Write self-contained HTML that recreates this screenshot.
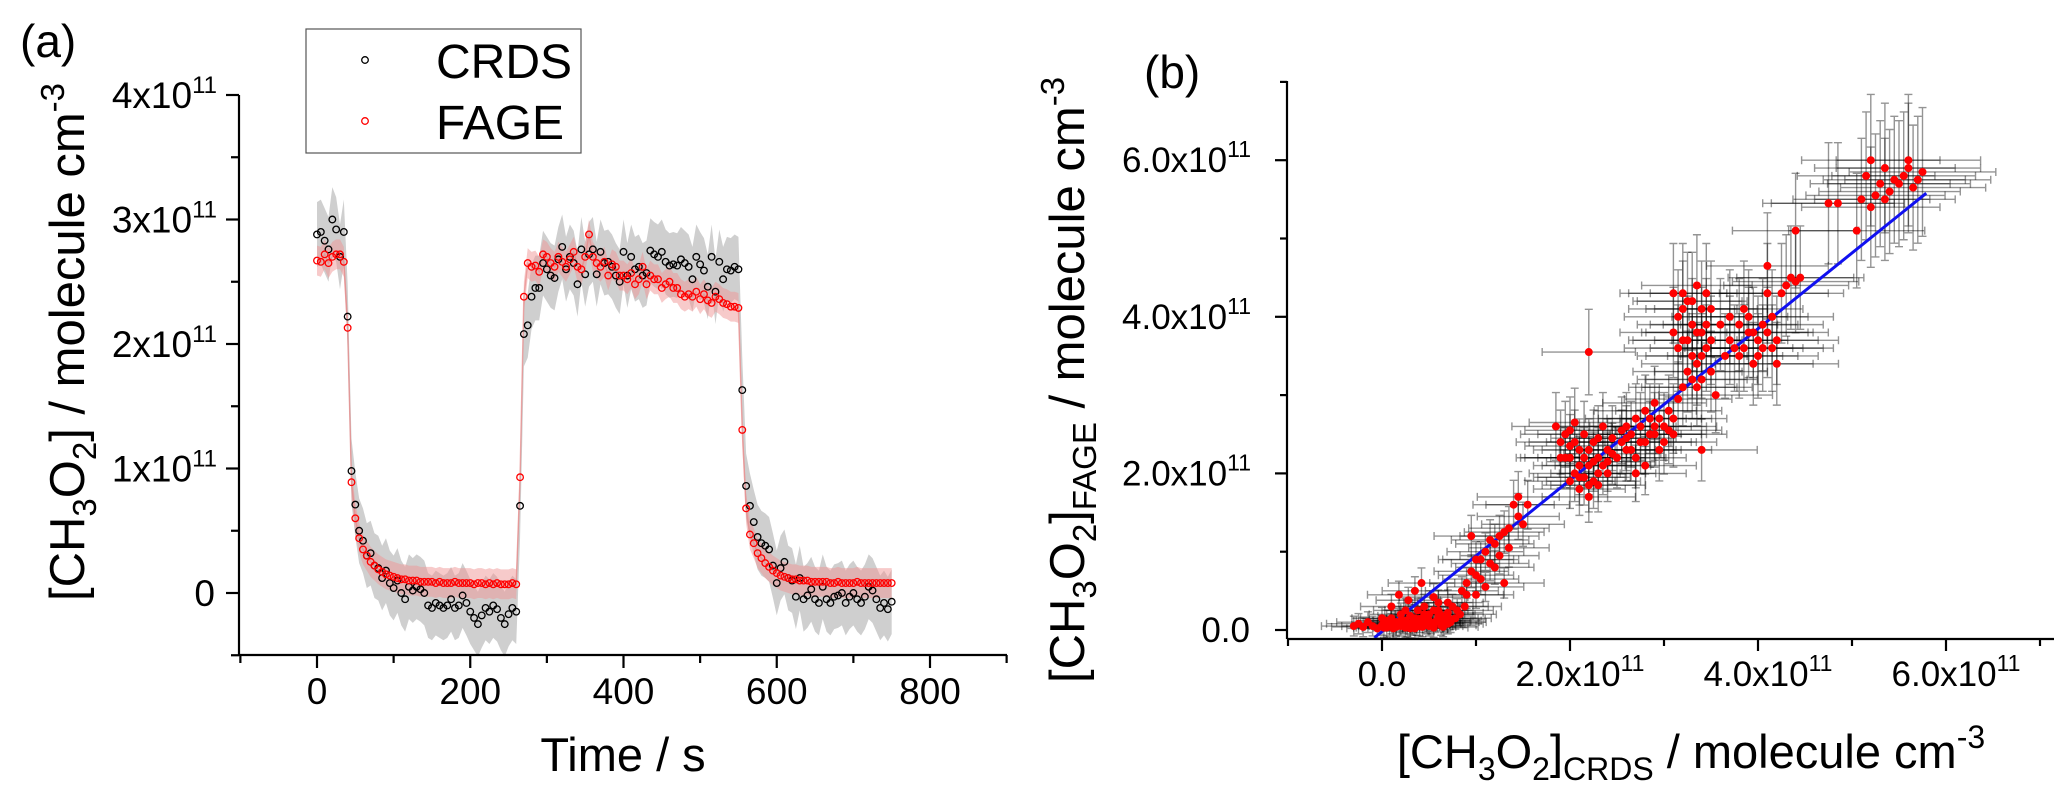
<!DOCTYPE html>
<html><head><meta charset="utf-8"><style>
html,body{margin:0;padding:0;background:#fff;}
svg{display:block;font-family:"Liberation Sans",Arial,sans-serif;}
</style></head><body>
<svg id="fig" width="2068" height="803" viewBox="0 0 2068 803" xmlns="http://www.w3.org/2000/svg">
<g id="pa"></g>
<g id="pb"></g>
</svg>
<script>
// ---------- Panel (a) data (units of 1e11 molecule cm^-3), sampled every dt seconds ----------
const dt = 5;
const crds = [
2.88,2.90,2.83,2.76,3.00,2.92,2.70,2.90,2.22,0.98,
0.71,0.50,0.42,0.30,0.32,0.22,0.20,0.12,0.18,0.08,
0.04,0.10,0.00,-0.05,0.05,0.02,0.05,0.03,0.00,-0.10,
-0.12,-0.08,-0.10,-0.12,-0.10,-0.05,-0.12,-0.10,-0.02,-0.08,
-0.15,-0.20,-0.25,-0.18,-0.12,-0.15,-0.10,-0.13,-0.20,-0.25,
-0.17,-0.12,-0.15,0.70,2.08,2.15,2.38,2.45,2.45,2.65,
2.60,2.55,2.53,2.68,2.78,2.60,2.70,2.65,2.48,2.76,
2.56,2.72,2.76,2.56,2.74,2.65,2.66,2.62,2.55,2.50,
2.74,2.55,2.70,2.60,2.62,2.55,2.57,2.75,2.72,2.70,
2.74,2.66,2.63,2.64,2.63,2.68,2.65,2.62,2.52,2.70,
2.64,2.59,2.46,2.70,2.42,2.66,2.52,2.60,2.59,2.62,
2.60,1.63,0.86,0.70,0.57,0.45,0.40,0.38,0.35,0.22,
0.08,0.20,0.25,0.12,0.10,-0.03,0.12,-0.05,-0.02,0.03,
-0.05,-0.08,0.05,-0.05,-0.08,-0.03,-0.02,0.00,-0.08,-0.03,
0.00,-0.05,-0.08,-0.03,0.05,0.02,-0.05,-0.12,-0.08,-0.13,
-0.07];
const fage = [
2.67,2.66,2.72,2.65,2.70,2.72,2.72,2.66,2.13,0.89,
0.60,0.44,0.35,0.30,0.25,0.22,0.19,0.17,0.15,0.14,
0.13,0.12,0.11,0.11,0.10,0.10,0.10,0.09,0.09,0.09,
0.09,0.08,0.09,0.08,0.08,0.08,0.09,0.08,0.08,0.08,
0.08,0.07,0.08,0.08,0.07,0.08,0.07,0.08,0.07,0.07,
0.07,0.08,0.07,0.93,2.38,2.65,2.62,2.63,2.58,2.72,
2.70,2.65,2.62,2.70,2.66,2.62,2.68,2.74,2.62,2.60,
2.70,2.88,2.70,2.65,2.62,2.66,2.55,2.64,2.62,2.55,
2.55,2.52,2.57,2.48,2.52,2.62,2.48,2.55,2.52,2.52,
2.45,2.48,2.50,2.45,2.45,2.40,2.38,2.40,2.38,2.42,
2.36,2.40,2.35,2.33,2.38,2.36,2.33,2.32,2.30,2.30,
2.29,1.31,0.68,0.47,0.40,0.32,0.28,0.24,0.21,0.18,
0.16,0.14,0.13,0.12,0.11,0.11,0.10,0.10,0.10,0.09,
0.09,0.09,0.09,0.09,0.08,0.08,0.09,0.08,0.08,0.08,
0.08,0.09,0.08,0.08,0.08,0.08,0.08,0.08,0.08,0.08,
0.08];
const crdsErr = 0.26;
const fageErr = 0.12;
const aXTicks = [0,200,400,600,800];
const aXLabels = ["0","200","400","600","800"];
const aYTicks = [0,1,2,3,4];
const aYLabels = ["0","1x10","2x10","3x10","4x10"];

// ---------- Panel (b) data (units of 1e11) ----------
const bX = [-0.25,-0.15,-0.1,0,0.05,0.1,0.15,0.2,0.25,0.3,0.35,0.4,0.45,0.5,0.55,0.6,0.65,0.7,0.75,0.8,0.1,0.18,0.28,0.35,0.42,0.2,0.0,0.3,0.5,0.6,0.7,0.12,0.38,0.55,
-0.2,0.02,0.08,0.22,0.32,0.44,0.48,0.58,0.66,0.72,0.15,0.25,0.4,0.62,
-0.3,-0.05,0.05,0.1,0.15,0.22,0.27,0.33,0.37,0.43,0.47,0.52,0.57,0.63,0.68,0.73,0.78,0.83,0.88,0.2,0.3,0.4,0.5,0.6,0.7,0.45,0.25,0.35,0.55,0.65,
0.85,0.9,0.95,1.0,1.05,1.1,1.15,1.2,1.25,1.3,1.35,1.4,1.5,1.55,0.95,1.3,1.45,1.0,1.1,
0.9,1.0,1.05,1.15,1.2,1.25,1.35,1.45,
1.85,1.9,1.95,2.0,2.0,2.05,2.1,2.1,2.15,2.2,2.2,2.25,2.3,2.3,2.35,2.4,2.4,2.05,2.15,2.25,2.45,1.95,2.2,
1.9,2.0,2.05,2.1,2.15,2.2,2.25,2.3,2.35,2.2,2.1,2.3,2.4,2.45,2.0,
2.5,2.55,2.6,2.65,2.7,2.75,2.8,2.85,2.9,2.9,2.95,3.0,3.05,3.1,2.7,2.8,3.15,2.6,3.4,
2.55,2.65,2.75,2.8,2.85,2.95,3.0,3.05,2.6,2.7,2.9,3.1,
3.1,3.15,3.2,3.25,3.3,3.3,3.35,3.4,3.4,3.45,3.5,3.5,3.55,3.2,3.35,3.1,3.45,3.25,
3.15,3.2,3.25,3.3,3.35,3.4,3.4,3.45,3.3,3.5,3.2,3.35,
3.6,3.7,3.75,3.8,3.85,3.9,3.95,4.0,4.05,4.1,4.15,4.2,4.25,4.3,4.35,4.4,4.45,4.1,3.65,4.4,
3.7,3.8,3.9,4.0,4.05,4.1,4.15,4.2,3.85,3.95,
4.75,4.85,5.05,5.1,5.15,5.2,5.25,5.3,5.35,5.4,5.45,5.5,5.55,5.6,5.65,5.7,5.75,5.2,5.35,5.6];
const bY = [0.08,0.1,0.05,0.06,0.12,0.08,0.1,0.05,0.12,0.08,0.15,0.1,0.2,0.12,0.25,0.18,0.15,0.22,0.3,0.25,0.3,0.45,0.38,0.5,0.6,0.2,0.15,0.02,0.05,0.35,0.08,0.02,0.25,0.42,
0.04,0.03,0.05,0.1,0.06,0.15,0.08,0.12,0.1,0.14,0.06,0.03,0.05,0.2,
0.05,0.02,0.03,0.15,0.04,0.08,0.04,0.1,0.06,0.04,0.1,0.08,0.1,0.06,0.12,0.1,0.15,0.2,0.3,0.12,0.18,0.14,0.2,0.25,0.35,0.3,0.25,0.02,0.03,0.04,
0.5,0.6,0.75,0.7,0.9,1.0,0.85,1.1,1.2,1.25,1.05,1.6,1.35,1.6,1.2,0.6,1.7,0.45,0.55,
0.45,0.9,0.65,1.15,0.8,0.95,1.3,1.45,
2.6,2.4,2.2,1.9,2.55,2.0,1.8,2.3,2.5,1.7,2.1,2.4,1.85,2.2,2.6,2.0,2.3,2.65,1.95,1.9,2.45,2.5,3.55,
2.2,2.2,2.4,2.1,2.2,2.3,2.15,2.45,2.1,1.85,1.95,2.0,2.15,2.25,2.35,
2.2,2.4,2.3,2.5,2.2,2.6,2.4,2.7,2.5,2.9,2.3,2.6,2.8,2.5,2.0,2.1,2.95,2.6,2.3,
2.55,2.3,2.4,2.8,2.5,2.7,2.4,2.55,2.45,2.7,2.6,2.7,
4.3,4.0,3.7,4.2,3.5,3.9,4.4,3.2,3.8,3.6,3.3,4.1,3.0,3.1,3.4,3.8,4.3,3.3,
3.6,4.1,3.7,4.2,3.8,3.5,4.1,3.9,3.2,3.7,4.3,3.1,
3.9,4.0,3.6,3.5,4.1,3.8,3.4,3.7,3.9,4.3,3.6,3.4,4.3,4.4,4.5,4.45,4.5,4.65,3.5,5.1,
3.7,3.9,4.0,3.5,3.6,3.8,4.0,3.7,3.6,3.8,
5.45,5.45,5.1,5.5,5.8,5.4,5.55,5.7,5.9,5.6,5.75,5.7,5.8,5.9,5.65,5.75,5.85,6.0,5.5,6.0];
const fitSlope = 0.967;
const fitIntercept = -0.02;
const fitRange = [-0.08, 5.79];
const bXTicks = [0,2,4,6];
const bXLabels = ["0.0","2.0x10","4.0x10","6.0x10"];
const bYTicks = [0,2,4,6];
const bYLabels = ["0.0","2.0x10","4.0x10","6.0x10"];

// ---------- helpers ----------
const NS = "http://www.w3.org/2000/svg";
function mk(tag, attrs, parent){
  const e = document.createElementNS(NS, tag);
  for (const k in attrs) e.setAttribute(k, attrs[k]);
  parent.appendChild(e);
  return e;
}
const pa = document.getElementById('pa');
const pb = document.getElementById('pb');

// ---------- Panel (a) ----------
const aL=239, aR=1007, aB=655, aT=95;
const ax = v => 317 + (v-0)*(930-317)/800;
const ay = v => 593 - v*124.5;

function band(vals, err, fill, parent, name){
  let up = [], dn = [];
  vals.forEach((v,i)=>{ up.push(ax(i*dt)+','+ay(v+err)); dn.unshift(ax(i*dt)+','+ay(v-err)); });
  const p = mk('polygon',{points: up.concat(dn).join(' '), fill: fill}, parent);
  
  
}
band(crds, crdsErr, '#cfcfcf', pa, 'crds-uncertainty-band');
band(fage, fageErr, 'rgba(240,150,150,0.5)', pa, 'fage-uncertainty-band');
{
  const pts = fage.map((v,i)=>ax(i*dt)+','+ay(v)).join(' ');
  const l = mk('polyline',{points:pts, fill:'none', stroke:'rgba(230,130,130,0.6)', 'stroke-width':1.5}, pa);
  
  
}
const gC = mk('g',{}, pa);


crds.forEach((v,i)=>{
  const c = mk('circle',{cx:ax(i*dt), cy:ay(v), r:3.3, fill:'none', stroke:'#000', 'stroke-width':1.3}, gC);
  
  
});
const gF = mk('g',{}, pa);


fage.forEach((v,i)=>{
  const c = mk('circle',{cx:ax(i*dt), cy:ay(v), r:3.3, fill:'none', stroke:'#f00', 'stroke-width':1.3}, gF);
  
  
});

{
  const g = mk('g',{stroke:'#000','stroke-width':2.2}, pa);
  
  
  mk('line',{x1:aL,y1:aB,x2:aR,y2:aB},g);
  mk('line',{x1:aL,y1:aB,x2:aL,y2:aT},g);
  for (let v=-100; v<=900; v+=100){
    const maj = v%200===0;
    mk('line',{x1:ax(v),y1:aB,x2:ax(v),y2:aB+(maj?13:8)},g);
  }
  for (let v=-0.5; v<=4.01; v+=0.5){
    const maj = Math.abs(v-Math.round(v))<0.01;
    mk('line',{x1:aL,y1:ay(v),x2:aL-(maj?13:8),y2:ay(v)},g);
  }
}
aXTicks.forEach((v,i)=>{
  const t = mk('text',{x:ax(v), y:704, 'font-size':37, 'text-anchor':'middle'}, pa);
  t.textContent = aXLabels[i];
  
  
});
aYTicks.forEach((v,i)=>{
  const t = mk('text',{x:217, y:ay(v)+13, 'font-size':37, 'text-anchor':'end'}, pa);
  
  
  if (v===0){ t.setAttribute('x', 215); t.textContent = aYLabels[i]; }
  else {
    const a = mk('tspan',{},t); a.textContent = aYLabels[i];
    const s = mk('tspan',{'font-size':24, dy:-15},t); s.textContent = '11';
  }
});
{
  const t = mk('text',{x:623, y:771, 'font-size':47, 'text-anchor':'middle'}, pa);
  t.textContent = 'Time / s';
  
  
  const y = mk('text',{transform:'translate(84,342) rotate(-90)', 'font-size':49, 'text-anchor':'middle'}, pa);
  
  
  y.innerHTML = '[CH<tspan font-size="33" dy="12">3</tspan><tspan dy="-12">O</tspan><tspan font-size="33" dy="12">2</tspan><tspan dy="-12">] / molecule cm</tspan><tspan font-size="33" dy="-20">-3</tspan>';
  const p = mk('text',{x:20, y:57, 'font-size':46}, pa);
  p.textContent = '(a)';
  
  
}
{
  const g = mk('g',{}, pa);
  
  
  mk('rect',{x:306,y:29,width:275,height:124,fill:'#fff',stroke:'#555','stroke-width':1.2},g);
  const e1 = mk('g',{},g);
  
  
  mk('circle',{cx:365,cy:60,r:3.3,fill:'none',stroke:'#000','stroke-width':1.3},e1);
  const t1 = mk('text',{x:436,y:78,'font-size':48},e1); t1.textContent='CRDS';
  const e2 = mk('g',{},g);
  
  
  mk('circle',{cx:365,cy:121,r:3.3,fill:'none',stroke:'#f00','stroke-width':1.3},e2);
  const t2 = mk('text',{x:436,y:139,'font-size':48},e2); t2.textContent='FAGE';
}

// ---------- Panel (b) ----------
const bL=1287, bR=2054, bB=639, bT=81;
const bx = v => 1382 + v*94;
const by = v => 630 - v*78.3;
const gE = mk('g',{stroke:'rgba(0,0,0,0.42)','stroke-width':1.4}, pb);


bX.forEach((xv,i)=>{
  const yv = bY[i];
  const xe = 0.32 + 0.08*Math.abs(xv);
  const ye = 0.12 + 0.12*Math.abs(yv);
  const X=bx(xv), Y=by(yv), x1=bx(xv-xe), x2=bx(xv+xe), y1=by(yv-ye), y2=by(yv+ye);
  mk('path',{d:`M${x1},${Y}H${x2}M${X},${y1}V${y2}M${x1},${Y-4}v8M${x2},${Y-4}v8M${X-4},${y1}h8M${X-4},${y2}h8`, fill:'none'}, gE);
});
{
  const l = mk('line',{x1:bx(fitRange[0]), y1:by(fitSlope*fitRange[0]+fitIntercept), x2:bx(fitRange[1]), y2:by(fitSlope*fitRange[1]+fitIntercept), stroke:'#1010f0','stroke-width':3}, pb);
  
  
}
const gP = mk('g',{fill:'#f00'}, pb);


bX.forEach((xv,i)=>{
  const c = mk('circle',{cx:bx(xv), cy:by(bY[i]), r:4}, gP);
  
  
});
{
  const g = mk('g',{stroke:'#000','stroke-width':2.2}, pb);
  
  
  mk('line',{x1:bL,y1:bB,x2:bR,y2:bB},g);
  mk('line',{x1:bL,y1:bB,x2:bL,y2:bT},g);
  for (let v=-1; v<=7; v++){
    const maj = v%2===0;
    mk('line',{x1:bx(v),y1:bB,x2:bx(v),y2:bB+(maj?12:7)},g);
  }
  for (let v=0; v<=7; v++){
    const maj = v%2===0;
    mk('line',{x1:bL,y1:by(v),x2:bL-(maj?12:7),y2:by(v)},g);
  }
}
bXTicks.forEach((v,i)=>{
  const t = mk('text',{x:bx(v)+(v===0?0:10), y:686, 'font-size':35, 'text-anchor':'middle'}, pb);
  
  
  const a = mk('tspan',{},t); a.textContent = bXLabels[i];
  if (v!==0){ const s = mk('tspan',{'font-size':23, dy:-15},t); s.textContent='11'; }
});
bYTicks.forEach((v,i)=>{
  const t = mk('text',{x:1251, y:by(v)+12, 'font-size':35, 'text-anchor':'end'}, pb);
  
  
  if (v===0){ t.setAttribute('x',1250); t.textContent = bYLabels[i]; }
  else { const a = mk('tspan',{},t); a.textContent = bYLabels[i];
    const s = mk('tspan',{'font-size':23, dy:-15},t); s.textContent='11'; }
});
{
  const t = mk('text',{x:1691, y:768, 'font-size':47, 'text-anchor':'middle'}, pb);
  
  
  t.innerHTML = '[CH<tspan font-size="32" dy="12">3</tspan><tspan dy="-12">O</tspan><tspan font-size="32" dy="12">2</tspan><tspan dy="-12">]</tspan><tspan font-size="32" dy="12">CRDS</tspan><tspan dy="-12"> / molecule cm</tspan><tspan font-size="32" dy="-20">-3</tspan>';
  const y = mk('text',{transform:'translate(1084,380) rotate(-90)', 'font-size':49, 'text-anchor':'middle'}, pb);
  
  
  y.innerHTML = '[CH<tspan font-size="33" dy="12">3</tspan><tspan dy="-12">O</tspan><tspan font-size="33" dy="12">2</tspan><tspan dy="-12">]</tspan><tspan font-size="33" dy="12">FAGE</tspan><tspan dy="-12"> / molecule cm</tspan><tspan font-size="33" dy="-20">-3</tspan>';
  const p = mk('text',{x:1144, y:88, 'font-size':46}, pb);
  p.textContent = '(b)';
  
  
}
</script>
</body></html>
